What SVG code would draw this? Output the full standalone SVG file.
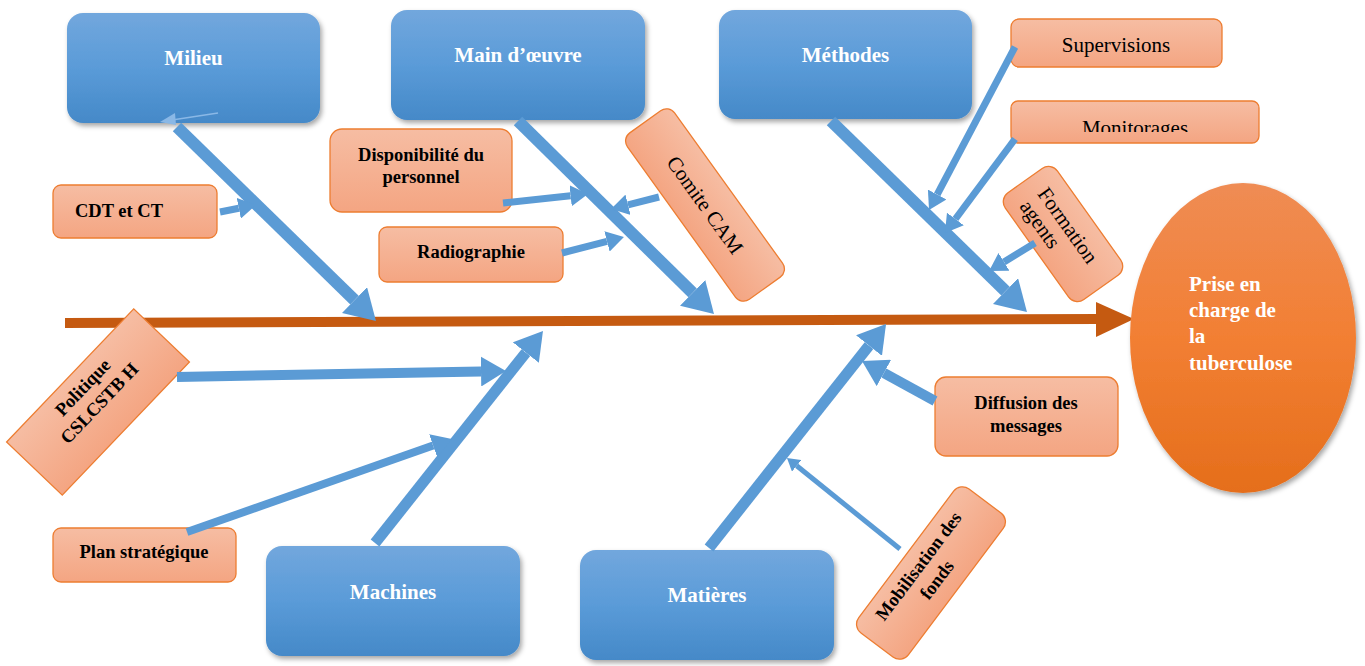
<svg xmlns="http://www.w3.org/2000/svg" width="1365" height="666" viewBox="0 0 1365 666">
<style>
.bx{fill:url(#gBlue);filter:url(#sh)}
.title{font-family:"Liberation Serif",serif;font-weight:bold;font-size:21px;fill:#fff;text-anchor:middle}
.ob{fill:url(#gOr);stroke:#ed7d31;stroke-width:1.3}
.lb{font-family:"Liberation Serif",serif;font-weight:bold;font-size:18.5px;fill:#000;text-anchor:middle}
.ln{font-family:"Liberation Serif",serif;font-size:21px;fill:#000;text-anchor:middle}
.el{font-family:"Liberation Serif",serif;font-weight:bold;font-size:21px;fill:#fff}
.bone{stroke:#5b9bd5;fill:none;marker-end:url(#ah)}
</style>
<defs>
<linearGradient id="gBlue" x1="0" y1="0" x2="0" y2="1">
<stop offset="0" stop-color="#72a7dd"/><stop offset="0.5" stop-color="#5a9bd8"/><stop offset="1" stop-color="#4589c8"/>
</linearGradient>
<linearGradient id="gOr" x1="0" y1="0" x2="0" y2="1">
<stop offset="0" stop-color="#f6bda3"/><stop offset="1" stop-color="#f4a582"/>
</linearGradient>
<linearGradient id="gEl" x1="0" y1="0" x2="0" y2="1">
<stop offset="0" stop-color="#ef8c54"/><stop offset="0.5" stop-color="#f27f33"/><stop offset="1" stop-color="#e56e1b"/>
</linearGradient>
<filter id="sh" x="-10%" y="-10%" width="125%" height="135%">
<feDropShadow dx="2" dy="3" stdDeviation="2.5" flood-color="#000" flood-opacity="0.35"/>
</filter>
<marker id="ah" viewBox="0 0 10 10" refX="0" refY="5" markerUnits="strokeWidth" markerWidth="2.5" markerHeight="3" orient="auto" preserveAspectRatio="none">
<path d="M0,0 L10,5 L0,10 z" fill="#5b9bd5"/>
</marker>
<clipPath id="monClip"><rect x="1000" y="100" width="270" height="32"/></clipPath>
</defs>

<g id="spine">
<line x1="65" y1="323" x2="1098" y2="319" stroke="#c55a11" stroke-width="10"/>
<polygon points="1096,302 1134,319 1096,337" fill="#c55a11"/>
</g>

<g id="effect">
<ellipse cx="1243" cy="338" rx="113" ry="155" fill="url(#gEl)" filter="url(#sh)"/>
<text class="el" x="1189" y="291">Prise en</text>
<text class="el" x="1189" y="317">charge de</text>
<text class="el" x="1189" y="343">la</text>
<text class="el" x="1189" y="370">tuberculose</text>
</g>

<g id="milieu">
<rect class="bx" x="67" y="13" width="253" height="110" rx="16"/>
<text class="title" x="193.5" y="65">Milieu</text>
<line x1="218" y1="113" x2="172" y2="120" stroke="#8ab8e6" stroke-width="1.5"/>
<polygon points="160,122 175,113 176,125" fill="#8ab8e6"/>
</g>
<g id="main-oeuvre">
<rect class="bx" x="391" y="10" width="254" height="110" rx="16"/>
<text class="title" x="518" y="62">Main d’œuvre</text>
</g>
<g id="methodes">
<rect class="bx" x="719" y="10" width="253" height="109" rx="16"/>
<text class="title" x="845.5" y="62">Méthodes</text>
</g>
<g id="machines">
<rect class="bx" x="266" y="546" width="254" height="110" rx="16"/>
<text class="title" x="393" y="599">Machines</text>
</g>
<g id="matieres">
<rect class="bx" x="580" y="550" width="254" height="110" rx="16"/>
<text class="title" x="707" y="602">Matières</text>
</g>

<g id="cdt">
<rect class="ob" x="53" y="185" width="164" height="53" rx="8"/>
<text class="lb" x="75" y="217" style="text-anchor:start">CDT et CT</text>
</g>
<g id="disponibilite">
<rect class="ob" x="330" y="129" width="182" height="83" rx="12"/>
<text class="lb" x="421" y="161">Disponibilité du</text>
<text class="lb" x="421" y="183">personnel</text>
</g>
<g id="radiographie">
<rect class="ob" x="379" y="227" width="184" height="55" rx="8"/>
<text class="lb" x="471" y="258">Radiographie</text>
</g>
<g id="comite" transform="translate(705,205) rotate(54.3)">
<rect class="ob" x="-102.5" y="-29" width="205" height="58" rx="10"/>
<text class="ln" x="0" y="7">Comite CAM</text>
</g>
<g id="supervisions">
<rect class="ob" x="1011" y="19" width="211" height="48" rx="8"/>
<text class="ln" x="1116" y="52">Supervisions</text>
</g>
<g id="monitorages">
<rect class="ob" x="1011" y="101" width="248" height="42" rx="7"/>
<text class="ln" x="1135" y="135" clip-path="url(#monClip)">Monitorages</text>
</g>
<g id="formation" transform="translate(1063,234) rotate(54.6)">
<rect class="ob" x="-65.5" y="-32" width="131" height="64" rx="11"/>
<text class="ln" x="-48" y="-2" style="text-anchor:start">Formation</text>
<text class="ln" x="-48" y="20" style="text-anchor:start">agents</text>
</g>
<g id="politique" transform="translate(98,402) rotate(-46.3)">
<rect class="ob" x="-92" y="-38.5" width="184" height="77"/>
<text class="lb" x="0" y="-15">Politique</text>
<text class="lb" x="0" y="8">CSLCSTB H</text>
</g>
<g id="plan">
<rect class="ob" x="53" y="528" width="183" height="54" rx="8"/>
<text class="lb" x="144" y="558">Plan stratégique</text>
</g>
<g id="diffusion">
<rect class="ob" x="935" y="377" width="183" height="79" rx="11"/>
<text class="lb" x="1026" y="409">Diffusion des</text>
<text class="lb" x="1026" y="432">messages</text>
</g>
<g id="mobilisation" transform="translate(931,573) rotate(-53.1)">
<rect class="ob" x="-90" y="-31" width="180" height="62" rx="11"/>
<text class="lb" x="-2" y="-8">Mobilisation des</text>
<text class="lb" x="-2" y="15">fonds</text>
</g>

<g id="connectors">
<path class="bone" stroke-width="12" d="M177,127 L354.5,300.1"/>
<path class="bone" stroke-width="12" d="M518,121 L692.6,292.9"/>
<path class="bone" stroke-width="12" d="M831,121 L1005.5,291.1"/>
<path class="bone" stroke-width="11" d="M375,543 L525.9,352.6"/>
<path class="bone" stroke-width="11" d="M709,548 L869,345.6"/>
<path class="bone" stroke-width="7" d="M220,212 L238.8,208.3"/>
<path class="bone" stroke-width="7" d="M503,203 L570.6,195.8"/>
<path class="bone" stroke-width="7" d="M659,197 L628,204.8"/>
<path class="bone" stroke-width="7" d="M562,253 L607,241.4"/>
<path class="bone" stroke-width="7" d="M1015,47 L937.2,194.5"/>
<path class="bone" stroke-width="7" d="M1015,139 L955.4,219"/>
<path class="bone" stroke-width="7" d="M1035,243 L1004,261.9"/>
<path class="bone" stroke-width="10" d="M177,377 L481,371.5"/>
<path class="bone" stroke-width="8" d="M187,532 L433.1,445.6"/>
<path class="bone" stroke-width="10" d="M935,401 L883.9,373"/>
<path class="bone" stroke-width="5" d="M900,549 L796.7,465.8"/>
</g>
</svg>
